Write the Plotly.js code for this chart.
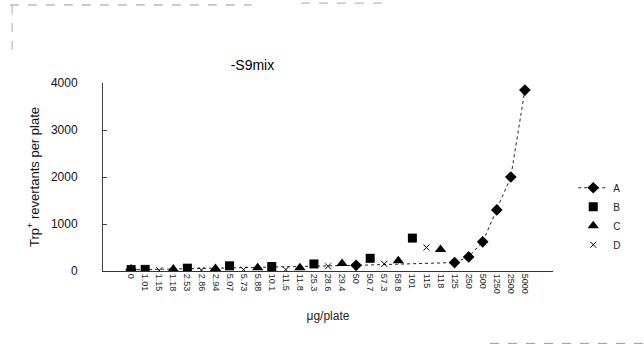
<!DOCTYPE html>
<html>
<head>
<meta charset="utf-8">
<script src="https://cdn.plot.ly/plotly-3.0.1.min.js"></script>
<style>html,body{margin:0;padding:0;background:#fff;}#chart{width:644px;height:350px;}</style>
</head>
<body>
<div id="chart"></div>
<script>
// Category axis (dose, µg/plate)
var categories = ["0","1.01","1.15","1.18","2.53","2.86","2.94","5.07","5.73","5.88","10.1","11.5","11.8","25.3","28.6","29.4","50","50.7","57.3","58.8","101","115","118","125","250","500","1250","2500","5000"];

// Series A (diamonds with line)
var aDoses  = ["0","50","125","250","500","1250","2500","5000"];
var aValues = [25, 120, 180, 300, 620, 1300, 2000, 3850];

// Series B (squares)
var bDoses  = ["0","1.01","2.53","5.07","10.1","25.3","50.7","101"];
var bValues = [30, 35, 60, 110, 95, 150, 270, 700];

// Series C (triangles)
var cDoses  = ["1.18","2.94","5.88","11.8","29.4","58.8","118"];
var cValues = [40, 55, 70, 70, 160, 220, 460];

// Series D (x markers)
var dDoses  = ["1.15","2.86","5.73","11.5","28.6","57.3","115"];
var dValues = [15, 20, 30, 30, 100, 150, 500];

var yTicks = [0, 1000, 2000, 3000, 4000];

var font = "Liberation Sans, Arial, sans-serif";

var traces = [
  {name: "A", x: aDoses, y: aValues, type: "scatter", mode: "lines+markers", connectgaps: true,
   line: {color: "#222", width: 1, dash: "dot"}, marker: {symbol: "diamond", size: 9, color: "#000"}},
  {name: "B", x: bDoses, y: bValues, type: "scatter", mode: "markers",
   marker: {symbol: "square", size: 9, color: "#000"}},
  {name: "C", x: cDoses, y: cValues, type: "scatter", mode: "markers",
   marker: {symbol: "triangle-up", size: 10, color: "#000"}},
  {name: "D", x: dDoses, y: dValues, type: "scatter", mode: "markers",
   marker: {symbol: "x-thin", size: 6, color: "#000", line: {width: 1, color: "#000"}}}
];

var layout = {
  width: 644, height: 350,
  margin: {l: 103, r: 91, t: 83, b: 79},
  paper_bgcolor: "#fff", plot_bgcolor: "#fff",
  font: {family: font, color: "#000"},
  showlegend: true,
  title: {text: "-S9mix", font: {size: 14, family: font, color: "#000"},
          xref: "container", x: 0.392, xanchor: "center", yref: "container", y: 0.815, yanchor: "middle"},
  xaxis: {
    type: "category", categoryorder: "array", categoryarray: categories,
    tickvals: categories, ticktext: categories,
    tickangle: 90, tickfont: {size: 9, color: "#222"},
    showline: true, linecolor: "#333", linewidth: 1,
    showgrid: false, zeroline: false, ticks: "",
    title: {text: "μg/plate", font: {size: 12, color: "#222"}, standoff: 18}
  },
  yaxis: {
    range: [0, 4000], tickvals: yTicks, ticktext: yTicks.map(String),
    tickfont: {size: 12, color: "#111"}, ticklabelstandoff: 22,
    showline: true, linecolor: "#444", linewidth: 1,
    ticks: "inside", ticklen: 4, tickcolor: "#444",
    showgrid: false, zeroline: false,
    title: {text: "Trp<sup>+</sup> revertants per plate", font: {size: 13, color: "#111"}, standoff: 8}
  },
  legend: {x: 1.045, xanchor: "left", y: 0.52, yanchor: "top",
           font: {size: 10, color: "#222"}, tracegroupgap: 0, itemwidth: 30,
           bgcolor: "rgba(0,0,0,0)"},
  shapes: [
    {type: "line", xref: "paper", yref: "paper", x0: -0.207, x1: 0.33, y0: 1.415, y1: 1.415, line: {color: "#999", width: 1, dash: "dash"}},
    {type: "line", xref: "paper", yref: "paper", x0: 0.44, x1: 0.62, y0: 1.425, y1: 1.425, line: {color: "#aaa", width: 1, dash: "dash"}},
    {type: "line", xref: "paper", yref: "paper", x0: -0.202, x1: -0.202, y0: 1.415, y1: 1.13, line: {color: "#aaa", width: 1, dash: "dash"}},
    {type: "line", xref: "paper", yref: "paper", x0: 0.86, x1: 1.2, y0: -0.385, y1: -0.385, line: {color: "#999", width: 1, dash: "dash"}}
  ]
};

Plotly.newPlot("chart", traces, layout, {displayModeBar: false, staticPlot: true});
</script>
</body>
</html>
